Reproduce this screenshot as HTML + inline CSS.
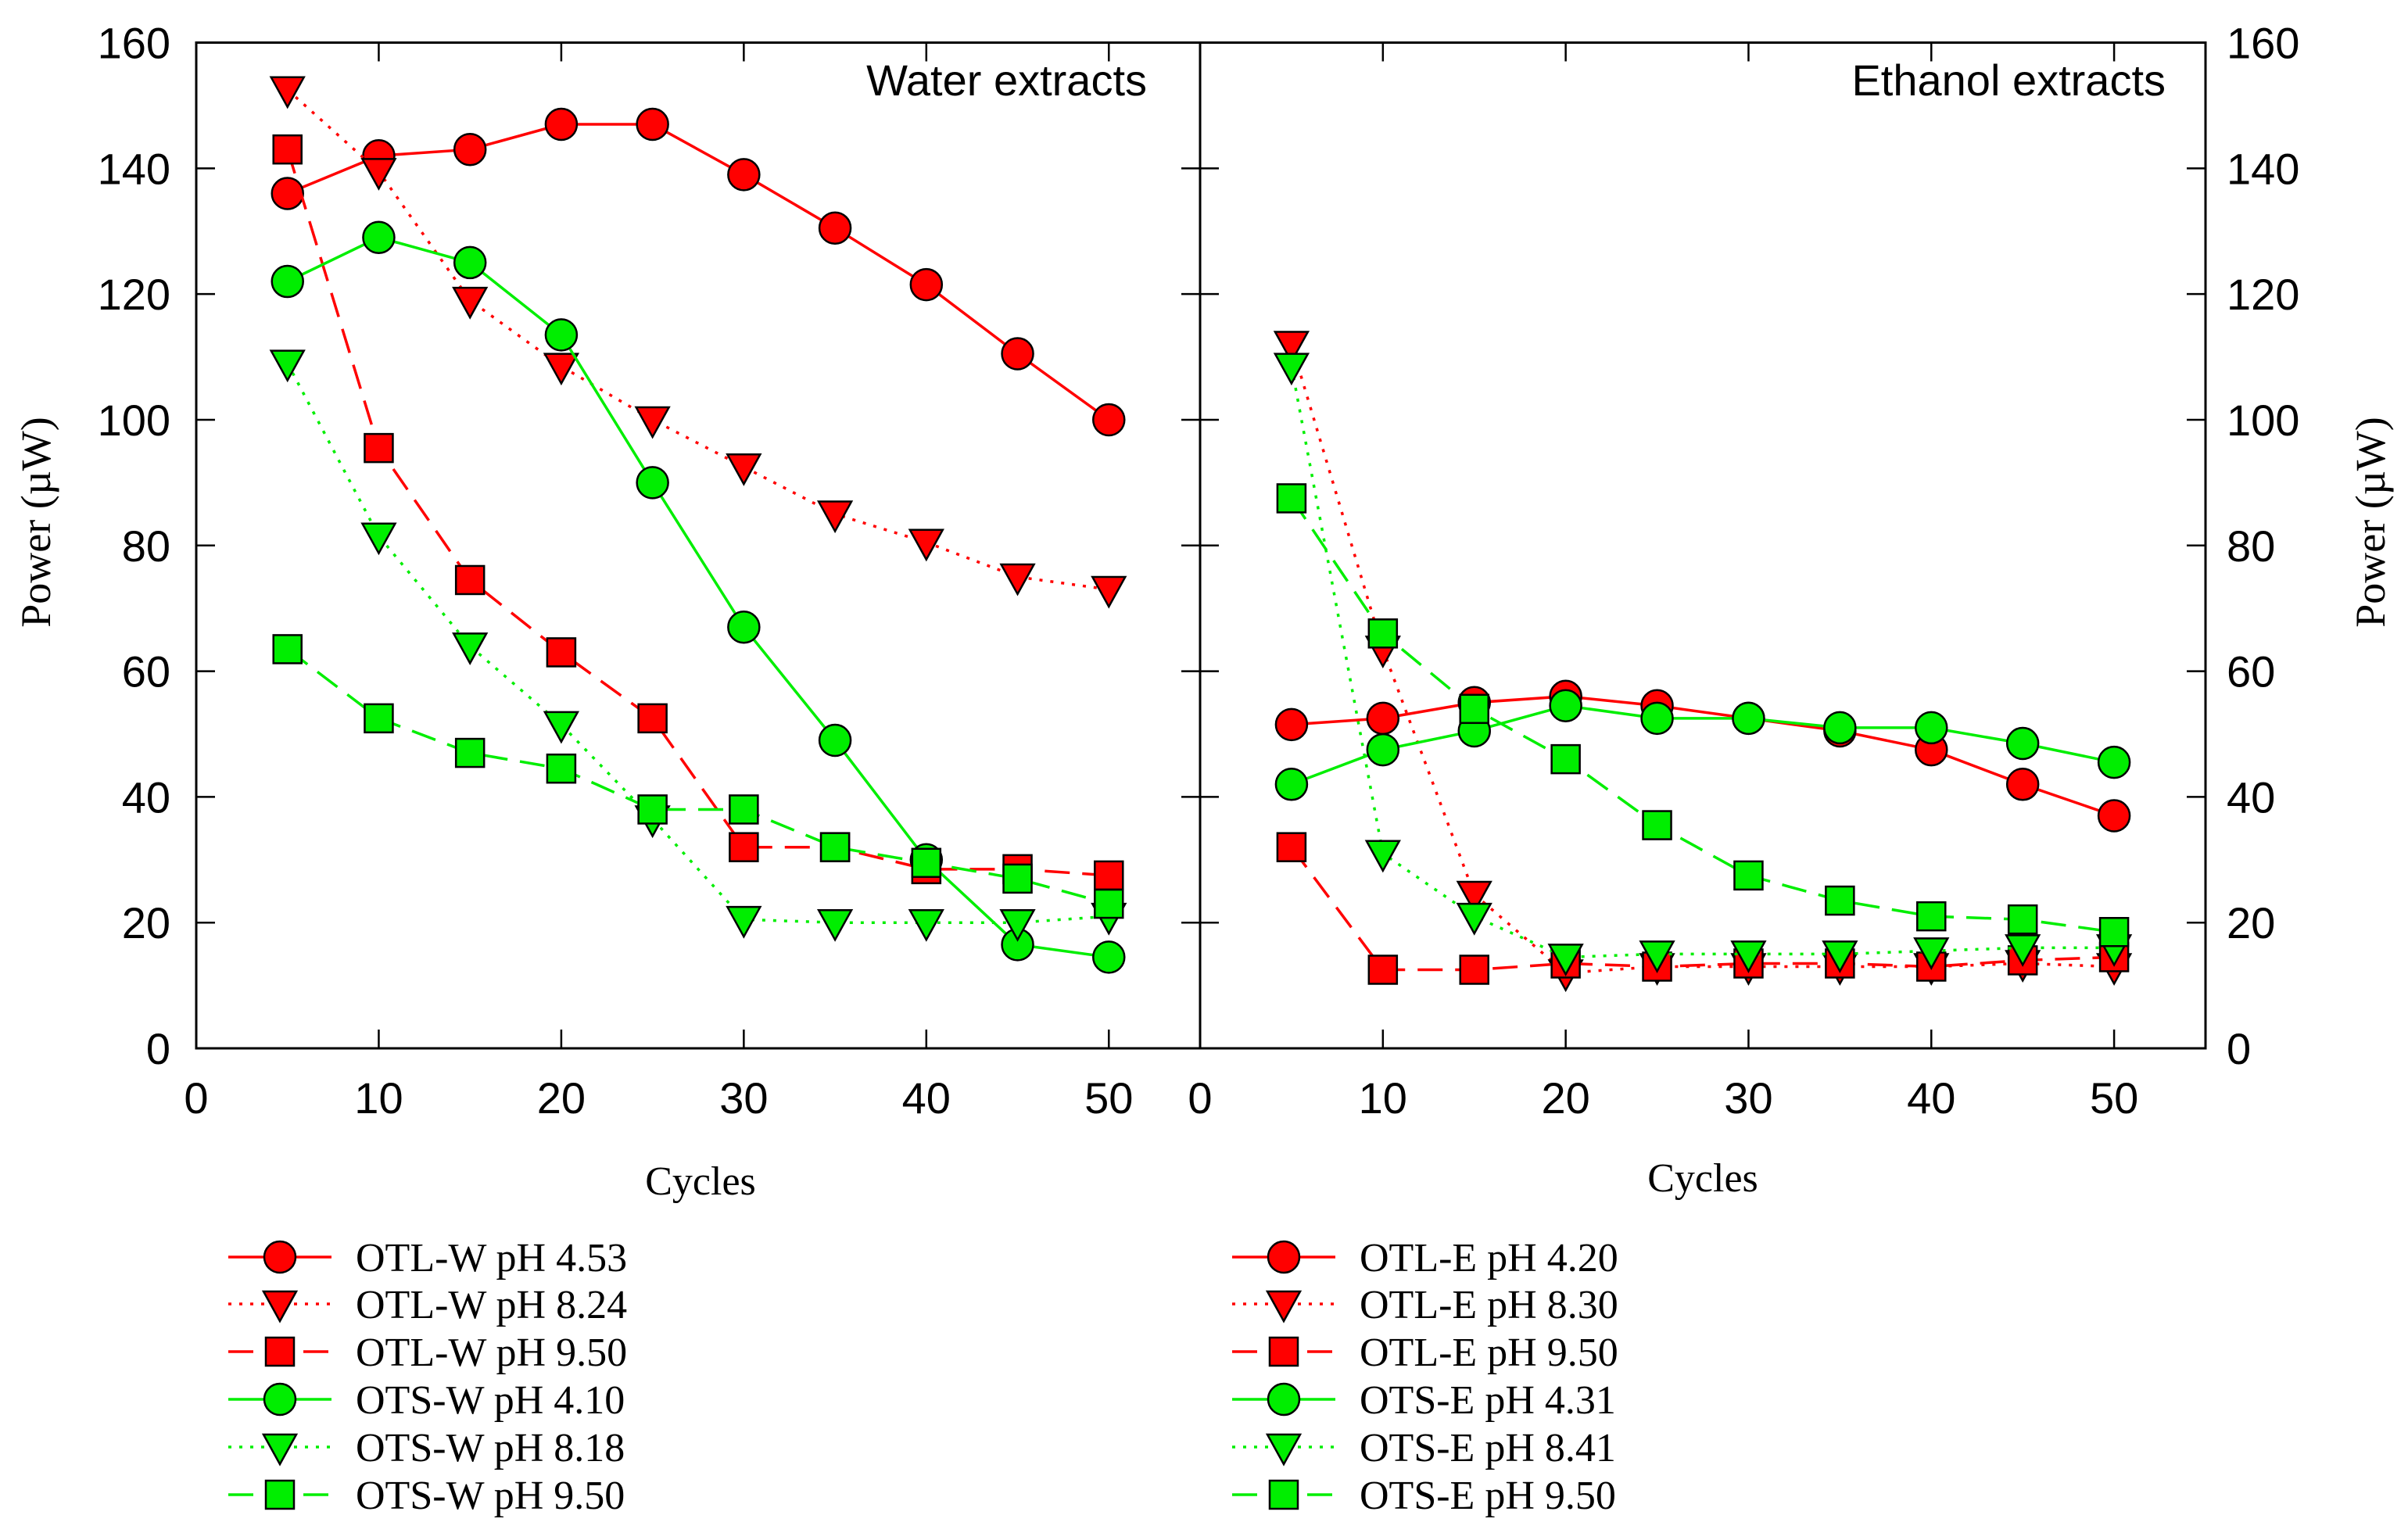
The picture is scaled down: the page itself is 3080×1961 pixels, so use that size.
<!DOCTYPE html>
<html><head><meta charset="utf-8">
<style>
html,body{margin:0;padding:0;background:#fff;}
svg{display:block;}
.tk{font-family:"Liberation Sans",Arial,sans-serif;font-size:56px;fill:#000;}
.tt{font-family:"Liberation Serif","Times New Roman",serif;font-size:52px;fill:#000;}
</style></head>
<body>
<svg id="chart" width="3080" height="1961" viewBox="0 0 3080 1961" xmlns="http://www.w3.org/2000/svg">
<g id="axes"></g>
<g id="series"></g>
<g id="legend"></g>
</svg>
<script>
// ---- data ----
const cycles = [5,10,15,20,25,30,35,40,45,50];
const xTicks = [0,10,20,30,40,50];
const yTicks = [0,20,40,60,80,100,120,140,160];
const labelsW = ["OTL-W pH 4.53","OTL-W pH 8.24","OTL-W pH 9.50","OTS-W pH 4.10","OTS-W pH 8.18","OTS-W pH 9.50"];
const labelsE = ["OTL-E pH 4.20","OTL-E pH 8.30","OTL-E pH 9.50","OTS-E pH 4.31","OTS-E pH 8.41","OTS-E pH 9.50"];
const otlW453 = [136,142,143,147,147,139,130.5,121.5,110.5,100];
const otlW824 = [152.5,139.5,119,108.5,100,92.5,85,80.5,75,73];
const otlW950 = [143,95.5,74.5,63,52.5,32,32,28.5,28.5,27.5];
const otsW410 = [122,129,125,113.5,90,67,49,30,16.5,14.5];
const otsW818 = [109,81.5,64,51.5,36.5,20.5,20,20,20,21];
const otsW950 = [63.5,52.5,47,44.5,38,38,32,29.5,27,23];
const otlE420 = [51.5,52.5,55,56,54.5,52.5,50.5,47.5,42,37];
const otlE830 = [112,63.5,24.5,12,13,13,13,13,13.5,13];
const otlE950 = [32,12.5,12.5,13.5,13,13.5,13.5,13,14,14.5];
const otsE431 = [42,47.5,50.5,54.5,52.5,52.5,51,51,48.5,45.5];
const otsE841 = [108.5,31,21,14.5,15,15,15,15.5,16,16];
const otsE950 = [87.5,66,54,46,35.5,27.5,23.5,21,20.5,18.5];

const NS="http://www.w3.org/2000/svg";
function mk(tag, attrs, parent){const e=document.createElementNS(NS,tag);for(const k in attrs)e.setAttribute(k,attrs[k]);parent.appendChild(e);return e;}
const TOP=54.5, BOT=1341, XMAX=55, YMAX=160;
const panels=[{x0:251,x1:1535},{x0:1535,x1:2821}];
function sx(p,v){return p.x0+(p.x1-p.x0)*v/XMAX;}
function sy(v){return BOT-(BOT-TOP)*v/YMAX;}
const axes=document.getElementById('axes');
const sg=document.getElementById('series');
const lg=document.getElementById('legend');

panels.forEach((p,pi)=>{
  const r=mk('rect',{x:p.x0,y:TOP,width:p.x1-p.x0,height:BOT-TOP,fill:'none',stroke:'#000','stroke-width':3},axes);
  
  
  xTicks.forEach(t=>{
    const X=sx(p,t);
    mk('line',{x1:X,y1:BOT,x2:X,y2:BOT-24,stroke:'#000','stroke-width':2.5},axes);
    mk('line',{x1:X,y1:TOP,x2:X,y2:TOP+24,stroke:'#000','stroke-width':2.5},axes);
    const tx=mk('text',{x:X,y:1424,'text-anchor':'middle',class:'tk'},axes);
    tx.textContent=t;
    
    
  });
  yTicks.forEach(t=>{
    const Y=sy(t);
    mk('line',{x1:p.x0,y1:Y,x2:p.x0+24,y2:Y,stroke:'#000','stroke-width':2.5},axes);
    mk('line',{x1:p.x1,y1:Y,x2:p.x1-24,y2:Y,stroke:'#000','stroke-width':2.5},axes);
  });
});
yTicks.forEach(t=>{
  const Y=sy(t);
  const a=mk('text',{x:218,y:Y+20,'text-anchor':'end',class:'tk'},axes);
  a.textContent=t;
  
  
  const b=mk('text',{x:2848,y:Y+20,'text-anchor':'start',class:'tk'},axes);
  b.textContent=t;
  
  
});
function txt(s,attrs,name,cls){const t=mk('text',attrs,axes);t.setAttribute('class',cls);t.textContent=s;return t;}
txt('Water extracts',{x:1467,y:122,'text-anchor':'end'},'water-panel-title','tk');
txt('Ethanol extracts',{x:2770,y:122,'text-anchor':'end'},'ethanol-panel-title','tk');
txt('Cycles',{x:896,y:1528,'text-anchor':'middle'},'x-axis-title-left','tt');
txt('Cycles',{x:2178,y:1524,'text-anchor':'middle'},'x-axis-title-right','tt');
const yl=txt('Power (\u00b5W)',{x:0,y:0,'text-anchor':'middle',transform:'translate(64,668) rotate(-90)'},'y-axis-title-left','tt');
yl.style.fontSize='54px';
const yr=txt('Power (\u00b5W)',{x:0,y:0,'text-anchor':'middle',transform:'translate(3050,668) rotate(-90)'},'y-axis-title-right','tt');
yr.style.fontSize='54px';

const RED='#ff0000', GRN='#00ee00';
const styles=[
 {c:RED,m:'circle',d:null},{c:RED,m:'tri',d:'4 10'},{c:RED,m:'square',d:'32 16'},
 {c:GRN,m:'circle',d:null},{c:GRN,m:'tri',d:'4 10'},{c:GRN,m:'square',d:'32 16'}];
function marker(kind,x,y,color,parent){
  let e;
  if(kind==='circle') e=mk('circle',{cx:x,cy:y,r:20,fill:color,stroke:'#000','stroke-width':2.5},parent);
  else if(kind==='square') e=mk('rect',{x:x-18,y:y-18,width:36,height:36,fill:color,stroke:'#000','stroke-width':2.5},parent);
  else e=mk('polygon',{points:`${x-21},${y-16} ${x+21},${y-16} ${x},${y+22}`,fill:color,stroke:'#000','stroke-width':2.5},parent);
  return e;
}
function drawSeries(p,vals,st,name){
  const g=mk('g',{},sg);
  
  
  const pts=cycles.map((c,i)=>sx(p,c)+','+sy(vals[i])).join(' ');
  const a={points:pts,fill:'none',stroke:st.c,'stroke-width':3.5};
  if(st.d)a['stroke-dasharray']=st.d;
  const l=mk('polyline',a,g);
  
  
  cycles.forEach((c,i)=>{
    const m=marker(st.m,sx(p,c),sy(vals[i]),st.c,g);
    
    
  });
}
const wSeries=[otlW453,otlW824,otlW950,otsW410,otsW818,otsW950];
const eSeries=[otlE420,otlE830,otlE950,otsE431,otsE841,otsE950];
wSeries.forEach((v,i)=>drawSeries(panels[0],v,styles[i],labelsW[i].toLowerCase().replace(/[ .]/g,'-')));
eSeries.forEach((v,i)=>drawSeries(panels[1],v,styles[i],labelsE[i].toLowerCase().replace(/[ .]/g,'-')));

const rowsY=[1608,1668,1729,1790,1851,1912];
function legend(x0,labels){
  labels.forEach((lab,i)=>{
    const st=styles[i], y=rowsY[i];
    const g=mk('g',{},lg);
    
    
    const a={x1:x0,y1:y,x2:x0+132,y2:y,stroke:st.c,'stroke-width':3.5};
    if(st.d)a['stroke-dasharray']=st.d;
    mk('line',a,g);
    marker(st.m,x0+66,y,st.c,g);
    const t=mk('text',{x:x0+163,y:y+18,class:'tt'},g);
    t.textContent=lab;
  });
}
legend(292,labelsW);
legend(1576,labelsE);
</script>
</body></html>
